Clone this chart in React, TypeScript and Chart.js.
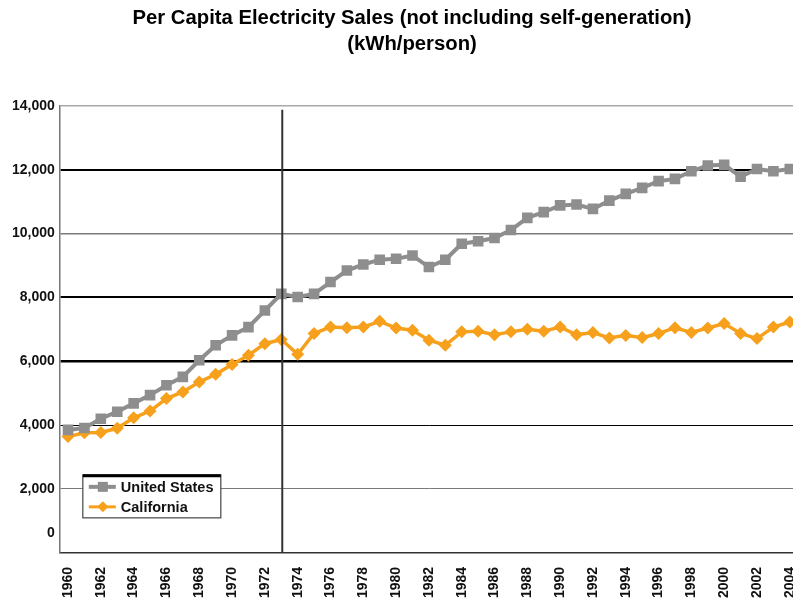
import React, { useEffect, useRef } from "react";
import { Chart, registerables } from "chart.js";

Chart.register(...registerables);

const years: string[] = [
  "1960","1961","1962","1963","1964","1965","1966","1967","1968","1969",
  "1970","1971","1972","1973","1974","1975","1976","1977","1978","1979",
  "1980","1981","1982","1983","1984","1985","1986","1987","1988","1989",
  "1990","1991","1992","1993","1994","1995","1996","1997","1998","1999",
  "2000","2001","2002","2003","2004",
];

const unitedStates: number[] = [
  3850, 3910, 4200, 4420, 4680, 4940, 5250, 5510, 6030, 6500,
  6810, 7070, 7590, 8110, 8010, 8110, 8480, 8840, 9030, 9180,
  9210, 9310, 8950, 9180, 9680, 9760, 9860, 10110, 10490, 10670,
  10880, 10910, 10770, 11030, 11240, 11430, 11640, 11710, 11950, 12130,
  12150, 11780, 12020, 11950, 12020,
];

const california: number[] = [
  3640, 3760, 3770, 3900, 4230, 4440, 4830, 5040, 5350, 5590,
  5900, 6190, 6550, 6680, 6220, 6870, 7070, 7050, 7070, 7250,
  7040, 6970, 6660, 6500, 6920, 6940, 6830, 6920, 7000, 6940,
  7070, 6830, 6900, 6730, 6810, 6740, 6870, 7050, 6900, 7040,
  7180, 6870, 6710, 7070, 7230,
];

const yTicks: number[] = [0, 2000, 4000, 6000, 8000, 10000, 12000, 14000];
const markerYear = "1973";
const titleLines: string[] = [
  "Per Capita Electricity Sales (not including self-generation)",
  "(kWh/person)",
];

const US_COLOR = "#8e8e8e";
const CA_COLOR = "#f6a01c";
const FONT = "'Liberation Sans', Arial, Helvetica, sans-serif";

const gridStyle: Record<number, { color: string; width: number }> = {
  0: { color: "rgba(0,0,0,0)", width: 0 },
  2000: { color: "#7a7a7a", width: 1 },
  4000: { color: "#000000", width: 1 },
  6000: { color: "#000000", width: 2.5 },
  8000: { color: "#000000", width: 2 },
  10000: { color: "#7a7a7a", width: 1.5 },
  12000: { color: "#000000", width: 2 },
  14000: { color: "#a8a8a8", width: 1.5 },
};

const overlayPlugin = {
  id: "overlay",
  afterDatasetsDraw(chart: any) {
    const { ctx, chartArea, scales } = chart;
    const x = scales.x.getPixelForValue(years.indexOf(markerYear)) + 1;
    ctx.save();
    ctx.strokeStyle = "#333333";
    ctx.lineWidth = 2;
    ctx.beginPath();
    ctx.moveTo(x, chartArea.top + 4);
    ctx.lineTo(x, chartArea.bottom);
    ctx.stroke();
    ctx.restore();
  },
  afterDraw(chart: any) {
    const { ctx, chartArea } = chart;
    const left = chartArea.left + 23;
    const top = chartArea.bottom - 78;
    const w = 138;
    const h = 43;
    ctx.save();
    ctx.fillStyle = "#ffffff";
    ctx.fillRect(left, top, w, h);
    ctx.strokeStyle = "#444444";
    ctx.lineWidth = 1.2;
    ctx.strokeRect(left, top, w, h);
    ctx.strokeStyle = "#000000";
    ctx.lineWidth = 3;
    ctx.beginPath();
    ctx.moveTo(left, top + 1);
    ctx.lineTo(left + w, top + 1);
    ctx.stroke();

    const items = [
      { label: chart.data.datasets[0].label, color: US_COLOR, style: "rect", y: top + 12, lw: 4 },
      { label: chart.data.datasets[1].label, color: CA_COLOR, style: "diamond", y: top + 32, lw: 3 },
    ];
    ctx.font = `bold 14.5px ${FONT}`;
    ctx.textBaseline = "middle";
    items.forEach((it) => {
      ctx.strokeStyle = it.color;
      ctx.fillStyle = it.color;
      ctx.lineWidth = it.lw;
      ctx.beginPath();
      ctx.moveTo(left + 6, it.y);
      ctx.lineTo(left + 33, it.y);
      ctx.stroke();
      const cx = left + 20;
      if (it.style === "rect") {
        ctx.fillRect(cx - 5, it.y - 5, 10, 10);
      } else {
        ctx.beginPath();
        ctx.moveTo(cx, it.y - 5.5);
        ctx.lineTo(cx + 5.5, it.y);
        ctx.lineTo(cx, it.y + 5.5);
        ctx.lineTo(cx - 5.5, it.y);
        ctx.closePath();
        ctx.fill();
      }
      ctx.fillStyle = "#111111";
      ctx.fillText(it.label, left + 38, it.y + 1);
    });
    ctx.restore();
  },
};

export default function App() {
  const canvasRef = useRef<HTMLCanvasElement | null>(null);

  useEffect(() => {
    if (!canvasRef.current) return;
    const chart = new Chart(canvasRef.current, {
      type: "line",
      data: {
        labels: years,
        datasets: [
          {
            label: "United States",
            data: unitedStates,
            borderColor: US_COLOR,
            backgroundColor: US_COLOR,
            borderWidth: 4,
            pointStyle: "rect",
            pointRadius: 7.5,
            pointBorderWidth: 0,
            tension: 0,
          },
          {
            label: "California",
            data: california,
            borderColor: CA_COLOR,
            backgroundColor: CA_COLOR,
            borderWidth: 3.5,
            pointStyle: "rectRot",
            pointRadius: 6.5,
            pointBorderWidth: 0,
            tension: 0,
          },
        ],
      },
      options: {
        animation: false,
        responsive: false,
        maintainAspectRatio: false,
        layout: { padding: { left: 7, right: 0, top: 0, bottom: 2 } },
        plugins: {
          legend: { display: false },
          tooltip: { enabled: false },
          title: {
            display: true,
            text: titleLines,
            color: "#000000",
            font: { family: FONT, size: 20.3, weight: "bold", lineHeight: 1.3 },
            padding: { top: 5, bottom: 48 },
          },
        },
        scales: {
          x: {
            type: "category",
            offset: true,
            grid: { display: false, drawTicks: false },
            border: { display: true, color: "#333333", width: 1.5 },
            afterFit: (s: any) => {
              s.paddingLeft = 0;
              s.paddingRight = 0;
            },
            ticks: {
              autoSkip: false,
              minRotation: 90,
              maxRotation: 90,
              padding: 14,
              color: "#111111",
              font: { family: FONT, size: 14, weight: "bold" },
              callback: (_v: any, i: number) => (i % 2 === 0 ? years[i] : ""),
            },
          },
          y: {
            min: 0,
            max: 14000,
            afterBuildTicks: (axis: any) => {
              axis.ticks = yTicks.map((v) => ({ value: v }));
            },
            grid: {
              drawTicks: false,
              color: (c: any) => (gridStyle[c.tick?.value]?.color ?? "#888"),
              lineWidth: (c: any) => (gridStyle[c.tick?.value]?.width ?? 1),
            },
            border: { display: true, color: "#777777", width: 1.5 },
            ticks: {
              autoSkip: false,
              padding: 5,
              color: "#111111",
              font: { family: FONT, size: 14, weight: "bold", lineHeight: 1.43 },
              callback: (v: any) =>
                v === 0 ? ["0", "", ""] : Number(v).toLocaleString("en-US"),
            },
          },
          spacer: {
            type: "linear",
            position: "right",
            display: true,
            grid: { display: false, drawTicks: false },
            border: { display: false },
            ticks: { display: false },
            afterFit: (s: any) => {
              s.width = 19;
            },
          },
        },
      },
      plugins: [overlayPlugin],
    });
    return () => chart.destroy();
  }, []);

  return (
    <div
      style={{
        position: "fixed",
        left: 0,
        top: 0,
        width: 793,
        height: 598,
        overflow: "hidden",
        background: "#ffffff",
      }}
    >
      <canvas ref={canvasRef} width={817} height={614} style={{ display: "block" }} />
    </div>
  );
}
